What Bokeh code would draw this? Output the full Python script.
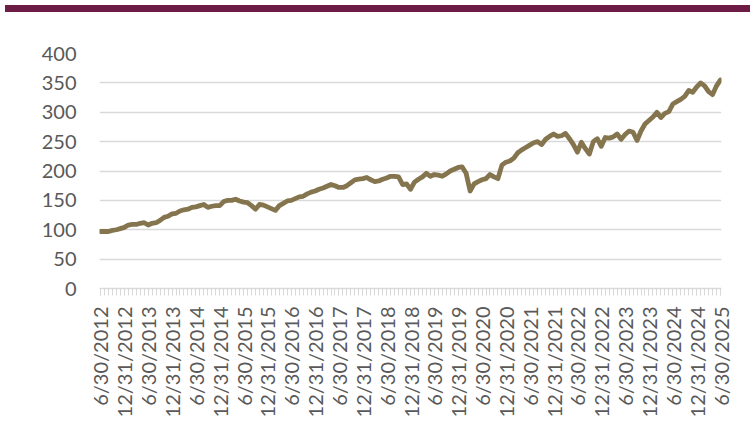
from math import pi
from bokeh.plotting import figure
from bokeh.models import FixedTicker, Div
from bokeh.layouts import column
from bokeh.embed import file_html
from bokeh.resources import INLINE

# Monthly index values, 6/30/2012 .. 6/30/2025 (157 months)
values = [
    97, 97, 97, 99, 100, 102,            # Jun12-Nov12
    104, 108, 109, 109, 111, 112,        # Dec12-May13
    108, 111, 112, 116, 121, 123,        # Jun13-Nov13
    127, 128, 132, 134, 135, 138,        # Dec13-May14
    139, 141, 143, 138, 140, 141,        # Jun14-Nov14
    141, 148, 150, 150, 152, 149,        # Dec14-May15
    147, 146, 141, 135, 143, 142,        # Jun15-Nov15
    139, 136, 133, 141, 145, 149,        # Dec15-May16
    150, 153, 156, 157, 161, 164,        # Jun16-Nov16
    166, 169, 171, 174, 177, 175,        # Dec16-May17
    172, 172, 175, 180, 185, 186,        # Jun17-Nov17
    187, 189, 185, 182, 183, 186,        # Dec17-May18
    188, 191, 191, 190, 177, 178,        # Jun18-Nov18
    169, 181, 186, 190, 196, 191,        # Dec18-May19
    194, 193, 191, 195, 200, 203,        # Jun19-Nov19
    206, 207, 196, 166, 178, 182,        # Dec19-May20
    185, 187, 194, 190, 187, 210,        # Jun20-Nov20
    215, 217, 222, 231, 236, 240,        # Dec20-May21
    244, 248, 250, 245, 254, 259,        # Jun21-Nov21
    263, 259, 260, 264, 255, 245,        # Dec21-May22
    232, 249, 238, 229, 250, 255,        # Jun22-Nov22
    242, 257, 256, 258, 263, 254,        # Dec22-May23
    262, 268, 266, 252, 268, 280,        # Jun23-Nov23
    286, 292, 300, 291, 298, 301,        # Dec23-May24
    314, 318, 322, 327, 337, 334,        # Jun24-Nov24
    343, 350, 345, 335, 330, 345,        # Dec24-May25
    355,                                 # Jun25
]

tick_labels = [
    "6/30/2012", "12/31/2012", "6/30/2013", "12/31/2013", "6/30/2014",
    "12/31/2014", "6/30/2015", "12/31/2015", "6/30/2016", "12/31/2016",
    "6/30/2017", "12/31/2017", "6/30/2018", "12/31/2018", "6/30/2019",
    "12/31/2019", "6/30/2020", "12/31/2020", "6/30/2021", "12/31/2021",
    "6/30/2022", "12/31/2022", "6/30/2023", "12/31/2023", "6/30/2024",
    "12/31/2024", "6/30/2025",
]

y_ticks = [0, 50, 100, 150, 200, 250, 300, 350, 400]

months = list(range(len(values)))
label_pos = [i * 6 for i in range(len(tick_labels))]

FONT = "Lato"
GRAY = "#595959"
GRID = "#D9D9D9"

p = figure(width=745, height=425, x_range=(-0.25, len(values) - 0.75),
           y_range=(0, 400), output_backend="svg", toolbar_location=None,
           min_border_left=99, min_border_right=24,
           min_border_top=36, min_border_bottom=154)
p.outline_line_color = None
p.background_fill_color = "white"
p.border_fill_color = "white"

p.xgrid.grid_line_color = None
p.ygrid.grid_line_color = GRID
p.ygrid.grid_line_width = 1.5
p.ygrid.ticker = FixedTicker(ticks=y_ticks)

p.yaxis.ticker = FixedTicker(ticks=y_ticks)
p.yaxis.axis_line_color = None
p.yaxis.major_tick_line_color = None
p.yaxis.minor_tick_line_color = None
p.yaxis.major_label_text_font = FONT
p.yaxis.major_label_text_font_size = "20px"
p.yaxis.major_label_text_color = GRAY
p.yaxis.major_label_standoff = 17

p.xaxis.ticker = FixedTicker(ticks=label_pos, minor_ticks=months)
p.xaxis.axis_line_color = GRID
p.xaxis.axis_line_width = 1.5
p.xaxis.major_tick_line_color = GRID
p.xaxis.minor_tick_line_color = GRID
p.xaxis.major_tick_in = 0
p.xaxis.major_tick_out = 7
p.xaxis.minor_tick_in = 0
p.xaxis.minor_tick_out = 7
p.xaxis.major_label_overrides = {pos: lab for pos, lab in zip(label_pos, tick_labels)}
p.xaxis.major_label_orientation = pi / 2
p.xaxis.major_label_text_font = FONT
p.xaxis.major_label_text_font_size = "20px"
p.xaxis.major_label_text_color = GRAY
p.xaxis.major_label_standoff = 11

p.line(months, values, line_color="#85754E", line_width=4.8,
       line_join="round", line_cap="round")

header = Div(width=745, height=7, styles={"background-color": "#6D1D45"})
layout = column(header, p, spacing=0)

open("out.html", "w").write(file_html(layout, INLINE))
